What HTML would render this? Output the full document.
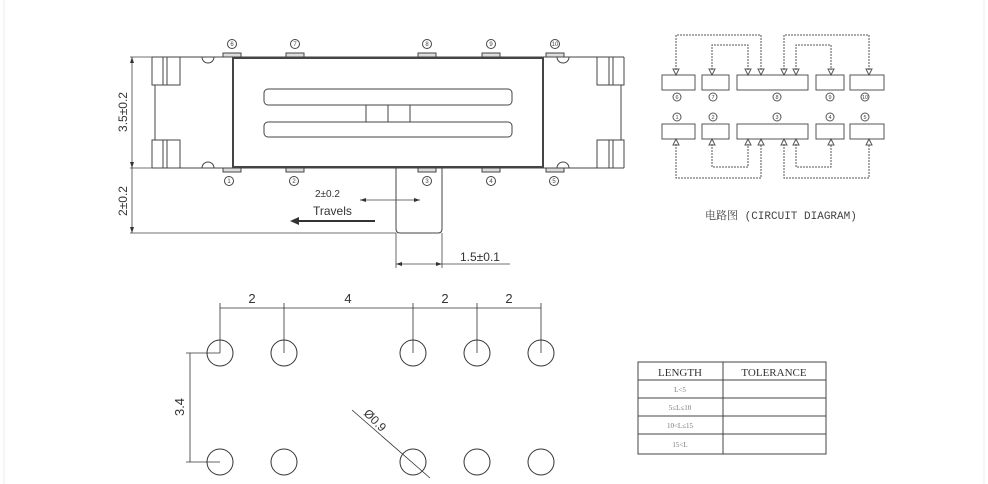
<!DOCTYPE html>
<html><head><style>body{margin:0;background:#fff}svg{display:block}</style></head><body>
<svg width="988" height="484" viewBox="0 0 988 484" xmlns="http://www.w3.org/2000/svg" font-family="Liberation Sans, sans-serif">
<line x1="4" y1="0" x2="4" y2="484" stroke="#eee"/>
<line x1="984" y1="0" x2="984" y2="484" stroke="#eee"/>
<g fill="none" stroke="#444" stroke-width="1">
<path d="M152 57 H624 M152 168 H624"/>
<path d="M152 57 V85 H155 V140 H152 V168 M180 57 V85 H155 M180 168 V140 H155"/>
<line x1="163" y1="57" x2="163" y2="85"/><line x1="167" y1="57" x2="167" y2="85"/>
<line x1="163" y1="140" x2="163" y2="168"/><line x1="167" y1="140" x2="167" y2="168"/>
<path d="M624 57 V85 H621 V140 H624 V168 M597 57 V85 H621 M597 168 V140 H621"/>
<line x1="613" y1="57" x2="613" y2="85"/><line x1="609" y1="57" x2="609" y2="85"/>
<line x1="613" y1="140" x2="613" y2="168"/><line x1="609" y1="140" x2="609" y2="168"/>
<path d="M202 57 A6 6 0 0 0 214 57 M202 168 A6 6 0 0 1 214 168 M557 57 A6 6 0 0 0 569 57 M557 168 A6 6 0 0 1 569 168"/>
<rect x="233" y="58" width="310" height="109" stroke-width="2"/>
<rect x="264" y="89" width="248" height="16" rx="4"/>
<rect x="264" y="122" width="248" height="15" rx="4"/>
<path d="M366 105 V122 M388 105 V122 M410 105 V122"/>
<g fill="#ddd">
<rect x="223" y="53" width="18" height="4"/><rect x="286" y="53" width="18" height="4"/><rect x="418" y="53" width="18" height="4"/><rect x="482" y="53" width="18" height="4"/><rect x="546" y="53" width="18" height="4"/>
<rect x="223" y="168" width="18" height="4"/><rect x="286" y="168" width="18" height="4"/><rect x="418" y="168" width="18" height="4"/><rect x="482" y="168" width="18" height="4"/><rect x="546" y="168" width="18" height="4"/>
</g>
<g stroke-width="1">
<circle cx="232" cy="44" r="4.5"/><circle cx="295" cy="44" r="4.5"/><circle cx="427" cy="44" r="4.5"/><circle cx="491" cy="44" r="4.5"/><circle cx="555" cy="44" r="4.5"/>
<circle cx="229" cy="181" r="4.5"/><circle cx="294" cy="181" r="4.5"/><circle cx="427" cy="181" r="4.5"/><circle cx="491" cy="181" r="4.5"/><circle cx="554" cy="181" r="4.5"/>
</g>
<path d="M396 168 V229 Q396 233 400 233 H438 Q442 233 442 229 V168"/>
<path d="M130 57 H152 M130 168 H152 M132 57 V233 M130 233 H396" stroke-width="0.8"/>
<path d="M396 233 V268 M442 233 V268 M396 264 H442 M442 264 H510 M360 200 H420" stroke-width="0.8"/>
</g>
<g font-size="6" fill="#444" text-anchor="middle">
<text x="232" y="46">6</text><text x="295" y="46">7</text><text x="427" y="46">8</text><text x="491" y="46">9</text><text x="555" y="46">10</text>
<text x="229" y="183">1</text><text x="294" y="183">2</text><text x="427" y="183">3</text><text x="491" y="183">4</text><text x="554" y="183">5</text>
</g>
<g fill="#333">
<path d="M396 264 l6 -2 v4 z M442 264 l-6 -2 v4 z M132 57 l-2 6 h4 z M132 168 l-2 -6 h4z M132 233 l-2 -6 h4z"/>
<path d="M360 200 l6 -2 v4z M420 200 l-6 -2 v4z"/>
<rect x="297" y="220" width="78" height="2"/><path d="M290 221 l9 -4 v8z"/>
</g>
<g font-size="12" fill="#333">
<text transform="translate(127 112) rotate(-90)" text-anchor="middle">3.5±0.2</text>
<text transform="translate(127 201) rotate(-90)" text-anchor="middle">2±0.2</text>
<text x="460" y="261">1.5±0.1</text>
<text x="315" y="197" font-size="10">2±0.2</text>
<text x="313" y="215">Travels</text>
</g>
<g fill="none" stroke="#555">
<rect x="662" y="75" width="33" height="15"/><rect x="702" y="75" width="27" height="15"/><rect x="737" y="75" width="71" height="15"/><rect x="816" y="75" width="28" height="15"/><rect x="850" y="75" width="34" height="15"/>
<rect x="662" y="124" width="33" height="15"/><rect x="702" y="124" width="27" height="15"/><rect x="737" y="124" width="71" height="15"/><rect x="816" y="124" width="28" height="15"/><rect x="850" y="124" width="34" height="15"/>
<path d="M676 70 V35 H761 V70 M712 70 V45 H748 V70 M784 70 V35 H869 V70 M796 70 V45 H831 V70" stroke-dasharray="2 1"/>
<path d="M676 144 V178 H761 V144 M712 144 V167 H748 V144 M784 144 V178 H869 V144 M796 144 V167 H831 V144" stroke-dasharray="2 1"/>
<path d="M673 69 h6 l-3 6z M709 69 h6 l-3 6z M745 69 h6 l-3 6z M758 69 h6 l-3 6z M781 69 h6 l-3 6z M793 69 h6 l-3 6z M828 69 h6 l-3 6z M866 69 h6 l-3 6z"/>
<path d="M673 145 h6 l-3 -6z M709 145 h6 l-3 -6z M745 145 h6 l-3 -6z M758 145 h6 l-3 -6z M781 145 h6 l-3 -6z M793 145 h6 l-3 -6z M828 145 h6 l-3 -6z M866 145 h6 l-3 -6z"/>
<circle cx="677" cy="97" r="4"/><circle cx="713" cy="97" r="4"/><circle cx="777" cy="97" r="4"/><circle cx="830" cy="97" r="4"/><circle cx="865" cy="97" r="4"/>
<circle cx="677" cy="117" r="4"/><circle cx="713" cy="117" r="4"/><circle cx="777" cy="117" r="4"/><circle cx="830" cy="117" r="4"/><circle cx="865" cy="117" r="4"/>
</g>
<g font-size="5.5" fill="#444" text-anchor="middle">
<text x="677" y="99">6</text><text x="713" y="99">7</text><text x="777" y="99">8</text><text x="830" y="99">9</text><text x="865" y="99">10</text>
<text x="677" y="119">1</text><text x="713" y="119">2</text><text x="777" y="119">3</text><text x="830" y="119">4</text><text x="865" y="119">5</text>
</g>
<text x="705" y="219" font-size="11" fill="#444" font-family="Liberation Mono, Noto Serif CJK SC, monospace">电路图 (CIRCUIT DIAGRAM)</text>
<g fill="none" stroke="#333">
<circle cx="220" cy="353" r="13"/><circle cx="284" cy="353" r="13"/><circle cx="413" cy="353" r="13"/><circle cx="477" cy="353" r="13"/><circle cx="541" cy="353" r="13"/>
<circle cx="220" cy="462" r="13"/><circle cx="284" cy="462" r="13"/><circle cx="413" cy="462" r="13"/><circle cx="477" cy="462" r="13"/><circle cx="541" cy="462" r="13"/>
<path d="M220 353 V303 M284 353 V303 M413 353 V303 M477 353 V303 M541 353 V303 M220 308 H541" stroke-width="0.8"/>
<path d="M186 353 H220 M186 462 H220 M190 353 V462" stroke-width="0.8"/>
<path d="M352 410 L430 478" stroke-width="0.8"/>
</g>
<g font-size="13" fill="#333">
<text x="252" y="303" text-anchor="middle">2</text><text x="348" y="303" text-anchor="middle">4</text><text x="445" y="303" text-anchor="middle">2</text><text x="509" y="303" text-anchor="middle">2</text>
<text transform="translate(184 407) rotate(-90)" text-anchor="middle">3.4</text>
<text transform="translate(363 414) rotate(45)" font-size="12">Ø0.9</text>
</g>
<g fill="none" stroke="#444">
<rect x="638" y="362" width="188" height="92"/>
<path d="M723 362 V454 M638 380 H826 M638 398 H826 M638 416 H826 M638 434 H826"/>
</g>
<g font-family="Liberation Serif, serif" fill="#333" text-anchor="middle">
<text x="680" y="376" font-size="11">LENGTH</text><text x="774" y="376" font-size="11">TOLERANCE</text>
<g font-size="7" fill="#777"><text x="680" y="392">L&lt;5</text><text x="680" y="410">5≤L≤10</text><text x="680" y="428">10&lt;L≤15</text><text x="680" y="447">15&lt;L</text></g>
</g>
</svg>
</body></html>
